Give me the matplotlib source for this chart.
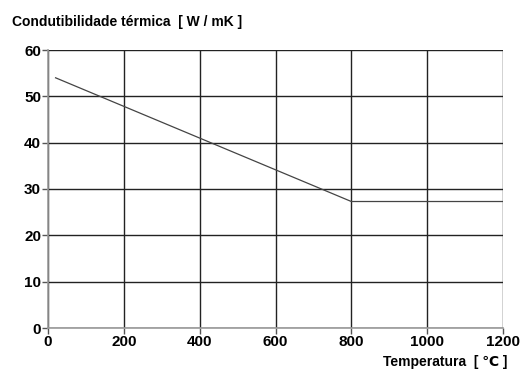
import matplotlib
matplotlib.use("Agg")
import matplotlib.pyplot as plt

plt.rcParams["font.family"] = ["Liberation Sans", "DejaVu Sans"]

temperature = [20, 800, 1200]
conductivity = [54.0, 27.3, 27.3]
x_ticks = [0, 200, 400, 600, 800, 1000, 1200]
y_ticks = [0, 10, 20, 30, 40, 50, 60]

fig = plt.figure(figsize=(5.26, 3.73), dpi=100)
ax = fig.add_axes([48 / 526, 1 - 328 / 373, 455 / 526, 278 / 373])

ax.plot(temperature, conductivity, color="#444444", linewidth=0.9)

ax.set_xlim(0, 1200)
ax.set_ylim(0, 60)
ax.set_xticks(x_ticks)
ax.set_yticks(y_ticks)
ax.grid(True, color="#222222", linewidth=1.0)
ax.set_axisbelow(True)
for side in ["top", "right"]:
    ax.spines[side].set_visible(False)
for side in ["left", "bottom"]:
    ax.spines[side].set_color("#999999")
    ax.spines[side].set_linewidth(1.2)

ax.tick_params(axis="both", length=4, width=1, color="#555555", labelsize=11, pad=1)
for label in ax.get_xticklabels() + ax.get_yticklabels():
    label.set_fontweight("bold")

fig.text(12 / 526, 1 - 22 / 373, "Condutibilidade térmica  [ W / mK ]",
         fontsize=10, fontweight="bold", va="center", ha="left")
fig.text(507 / 526, 1 - 362 / 373, "Temperatura  [ ℃ ]",
         fontsize=10, fontweight="bold", va="center", ha="right")

fig.savefig("out.png", dpi=100)
